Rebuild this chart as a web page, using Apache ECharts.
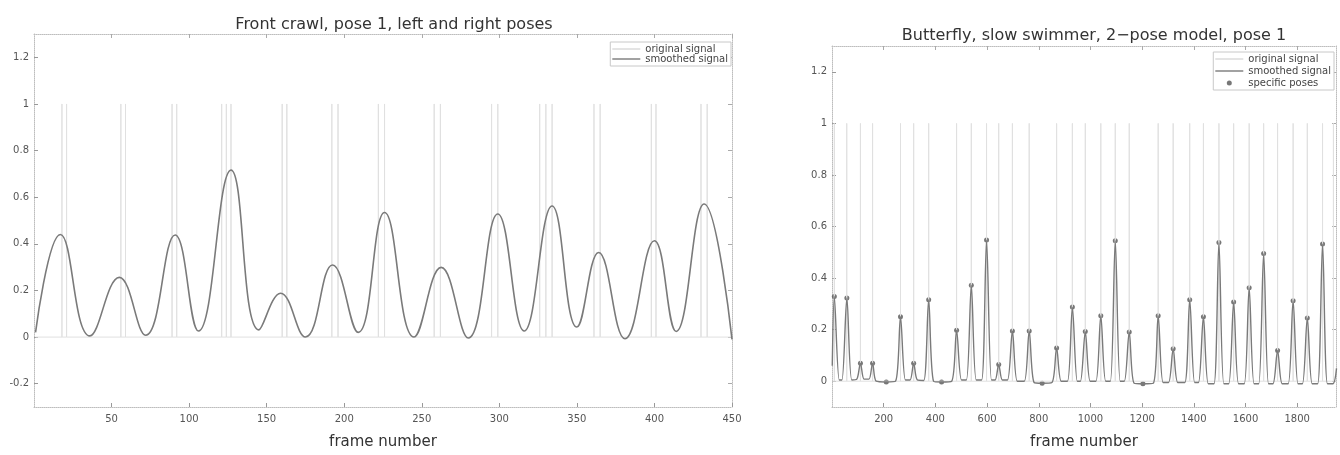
<!DOCTYPE html>
<html><head><meta charset="utf-8">
<script src="https://cdn.jsdelivr.net/npm/echarts@6/dist/echarts.min.js"></script>
<style>html,body{margin:0;padding:0;background:#fff}#c{width:1340px;height:455px}</style>
</head><body><div id="c"></div>
<script>
// ---------- Left chart: Front crawl ----------
const leftTitle = 'Front crawl, pose 1, left and right poses';
const leftSmoothFrames = [1, 17, 36, 55, 72, 91, 106, 127, 145, 159, 175, 192.5, 209, 226, 245, 262.5, 280, 299, 316, 334, 350, 364, 381, 400, 414, 432, 450];
const leftSmoothValues = [0.02, 0.44, 0.005, 0.256, 0.008, 0.438, 0.026, 0.716, 0.031, 0.188, 0.0, 0.309, 0.02, 0.534, 0.0, 0.299, -0.004, 0.528, 0.026, 0.562, 0.043, 0.363, -0.007, 0.413, 0.024, 0.571, -0.01];
const leftSpikeFrames = [18, 21, 56, 59, 89, 92, 121, 124, 127, 160, 163, 192, 196, 222, 226, 258, 262, 295, 299, 326, 330, 334, 361, 365, 398, 401, 430, 434];
const leftXTicks = [50, 100, 150, 200, 250, 300, 350, 400, 450];
const leftYTicks = [-0.2, 0, 0.2, 0.4, 0.6, 0.8, 1, 1.2];

// ---------- Right chart: Butterfly ----------
const rightTitle = 'Butterfly, slow swimmer, 2\u2212pose model, pose 1';
const rightSmoothFrames = [1, 9, 28, 38.5, 57.5, 76.5, 96, 110, 124, 143, 157, 171, 210, 246, 265, 284, 302, 316, 330, 355, 374, 393, 424, 463, 482, 501, 520, 539, 558, 579, 598, 617, 631, 645, 659, 679, 698, 717, 744, 763, 782, 813, 851, 869, 887, 911, 930, 949, 961, 980, 999, 1021, 1040, 1059, 1077, 1096, 1115, 1131, 1150, 1169, 1203, 1243, 1262, 1281, 1302, 1320, 1338, 1365, 1384, 1403, 1418, 1437, 1456, 1478, 1497, 1516, 1535, 1554, 1573, 1595, 1614, 1633, 1651, 1670, 1689, 1706, 1724, 1742, 1765, 1784, 1803, 1820, 1839, 1858, 1879, 1898, 1917, 1938, 1952];
const rightSmoothValues = [0.06, 0.329, 0.005, 0.005, 0.3225, 0.005, 0.008, 0.07, 0.008, 0.008, 0.07, 0.0, -0.003, 0.0, 0.25, 0.005, 0.005, 0.07, 0.005, 0.003, 0.316, 0.0, -0.003, 0.0, 0.1975, 0.005, 0.005, 0.3725, 0.005, 0.005, 0.5475, 0.005, 0.005, 0.065, 0.005, 0.005, 0.195, 0.0, 0.0, 0.195, -0.005, -0.008, -0.005, 0.129, 0.0, 0.0, 0.2875, 0.0, 0.0, 0.1925, 0.0, 0.0, 0.254, 0.0, 0.0, 0.545, 0.0, 0.0, 0.191, -0.008, -0.01, -0.008, 0.254, -0.005, -0.005, 0.126, -0.005, -0.005, 0.316, -0.005, -0.005, 0.25, -0.01, -0.01, 0.5375, -0.01, -0.01, 0.3075, -0.01, -0.01, 0.3625, -0.01, -0.01, 0.495, -0.01, -0.01, 0.119, -0.01, -0.01, 0.3125, -0.01, -0.01, 0.245, -0.01, -0.01, 0.5325, -0.01, -0.01, 0.05];
const poseFrames = [9, 57.5, 110, 157, 210, 265, 316, 374, 424, 482, 539, 598, 645, 698, 763, 813, 869, 930, 980, 1040, 1096, 1150, 1203, 1262, 1320, 1384, 1437, 1497, 1554, 1614, 1670, 1724, 1784, 1839, 1898];
const poseValues = [0.329, 0.3225, 0.07, 0.07, -0.003, 0.25, 0.07, 0.316, -0.003, 0.1975, 0.3725, 0.5475, 0.065, 0.195, 0.195, -0.008, 0.129, 0.2875, 0.1925, 0.254, 0.545, 0.191, -0.01, 0.254, 0.126, 0.316, 0.25, 0.5375, 0.3075, 0.3625, 0.495, 0.119, 0.3125, 0.245, 0.5325];
const rightSpikeFrames = [9, 57, 110, 157, 265, 316, 374, 482, 539, 598, 645, 698, 763, 869, 930, 980, 1040, 1096, 1150, 1262, 1320, 1384, 1437, 1497, 1554, 1614, 1670, 1724, 1784, 1839, 1898, 1940];
const rightXTicks = [200, 400, 600, 800, 1000, 1200, 1400, 1600, 1800];
const rightYTicks = [0, 0.2, 0.4, 0.6, 0.8, 1, 1.2];

// ---------- helpers ----------
const FONT = 'DejaVu Sans';
const zip = (a, b) => a.map((v, i) => [v, b[i]]);
function spikeLine(frames, xmin, xmax) {
  const d = [[xmin, 0]];
  frames.forEach(f => { d.push([f, 0], [f, 1], [f, 0]); });
  d.push([xmax, 0]);
  return d;
}
const plain = v => String(v);
const frameLine = { show: true, onZero: false, lineStyle: { color: '#bdbdbd', width: 1, type: 'dotted' } };
function xAxes(grid, min, max, ticks) {
  return [
    { type: 'value', gridIndex: grid, min: min, max: max, position: 'bottom',
      axisLine: frameLine, splitLine: { show: false },
      axisTick: { inside: true, length: 4, customValues: ticks, lineStyle: { color: '#999' } },
      axisLabel: { customValues: ticks, formatter: plain, margin: 7, color: '#555', fontSize: 10, fontFamily: FONT },
      name: 'frame number', nameLocation: 'middle', nameGap: 28,
      nameTextStyle: { fontSize: 15, color: '#333', fontFamily: FONT } },
    { type: 'value', gridIndex: grid, min: min, max: max, position: 'top',
      axisLine: frameLine, splitLine: { show: false },
      axisTick: { inside: true, length: 4, customValues: ticks, lineStyle: { color: '#aaa' } },
      axisLabel: { show: false } }
  ];
}
function yAxes(grid, min, max, ticks) {
  return [
    { type: 'value', gridIndex: grid, min: min, max: max, position: 'left',
      axisLine: frameLine, splitLine: { show: false },
      axisTick: { inside: true, length: 4, customValues: ticks, lineStyle: { color: '#999' } },
      axisLabel: { customValues: ticks, formatter: plain, margin: 5, color: '#555', fontSize: 10, fontFamily: FONT } },
    { type: 'value', gridIndex: grid, min: min, max: max, position: 'right',
      axisLine: frameLine, splitLine: { show: false },
      axisTick: { inside: true, length: 4, customValues: ticks, lineStyle: { color: '#aaa' } },
      axisLabel: { show: false } }
  ];
}
const LINE_ICON = 'path://M0,0H40V2H0Z';
const legendBase = {
  orient: 'vertical', align: 'left', itemWidth: 28, itemHeight: 5, symbolKeepAspect: true,
  textStyle: { fontSize: 10, color: '#444', fontFamily: FONT },
  backgroundColor: '#fff', borderColor: '#c8c8c8', borderWidth: 1,
  padding: [2, 3, 2, 2], selectedMode: false
};
const lineItem = name => ({ name: name, icon: LINE_ICON });

const chart = echarts.init(document.getElementById('c'));
chart.setOption({
  animation: false,
  backgroundColor: '#fff',
  title: [
    { text: leftTitle, left: 389, top: 12, textAlign: 'center',
      textStyle: { fontSize: 16, fontWeight: 'normal', color: '#333', fontFamily: FONT } },
    { text: rightTitle, left: 1089, top: 23, textAlign: 'center',
      textStyle: { fontSize: 16, fontWeight: 'normal', color: '#333', fontFamily: FONT } }
  ],
  legend: [
    Object.assign({}, legendBase, { data: [lineItem('original signal'), lineItem('smoothed signal')], right: 609, top: 42, itemGap: 0 }),
    Object.assign({}, legendBase, { data: [lineItem('original signal'), lineItem('smoothed signal'), { name: 'specific poses', icon: 'circle' }], right: 6, top: 52, itemGap: 2 })
  ],
  grid: [
    { left: 34, top: 34, width: 698, height: 374 },
    { left: 832, top: 46, width: 504, height: 373 }
  ],
  xAxis: xAxes(0, 0, 450, leftXTicks).concat(xAxes(1, 0, 1950, rightXTicks)),
  yAxis: yAxes(0, -0.3, 1.3, leftYTicks).concat(yAxes(1, -0.1, 1.3, rightYTicks)),
  series: [
    { name: 'original signal', type: 'line', xAxisIndex: 0, yAxisIndex: 0, symbol: 'none',
      data: spikeLine(leftSpikeFrames, 1, 450), lineStyle: { color: '#e0e0e0', width: 1 }, itemStyle: { color: '#d8d8d8' } },
    { name: 'smoothed signal', type: 'line', xAxisIndex: 0, yAxisIndex: 0, symbol: 'none', smooth: 0.45,
      data: zip(leftSmoothFrames, leftSmoothValues), lineStyle: { color: '#7a7a7a', width: 1.6 }, itemStyle: { color: '#7a7a7a' } },
    { name: 'original signal', type: 'line', xAxisIndex: 2, yAxisIndex: 2, symbol: 'none',
      data: spikeLine(rightSpikeFrames, 1, 1950), lineStyle: { color: '#e0e0e0', width: 1 }, itemStyle: { color: '#d8d8d8' } },
    { name: 'smoothed signal', type: 'line', xAxisIndex: 2, yAxisIndex: 2, symbol: 'none', smooth: 0.3,
      data: zip(rightSmoothFrames, rightSmoothValues), lineStyle: { color: '#7a7a7a', width: 1.4 }, itemStyle: { color: '#7a7a7a' } },
    { name: 'specific poses', type: 'scatter', xAxisIndex: 2, yAxisIndex: 2, symbol: 'circle', symbolSize: 5,
      data: zip(poseFrames, poseValues), itemStyle: { color: '#555' } }
  ]
});
</script>
</body></html>
